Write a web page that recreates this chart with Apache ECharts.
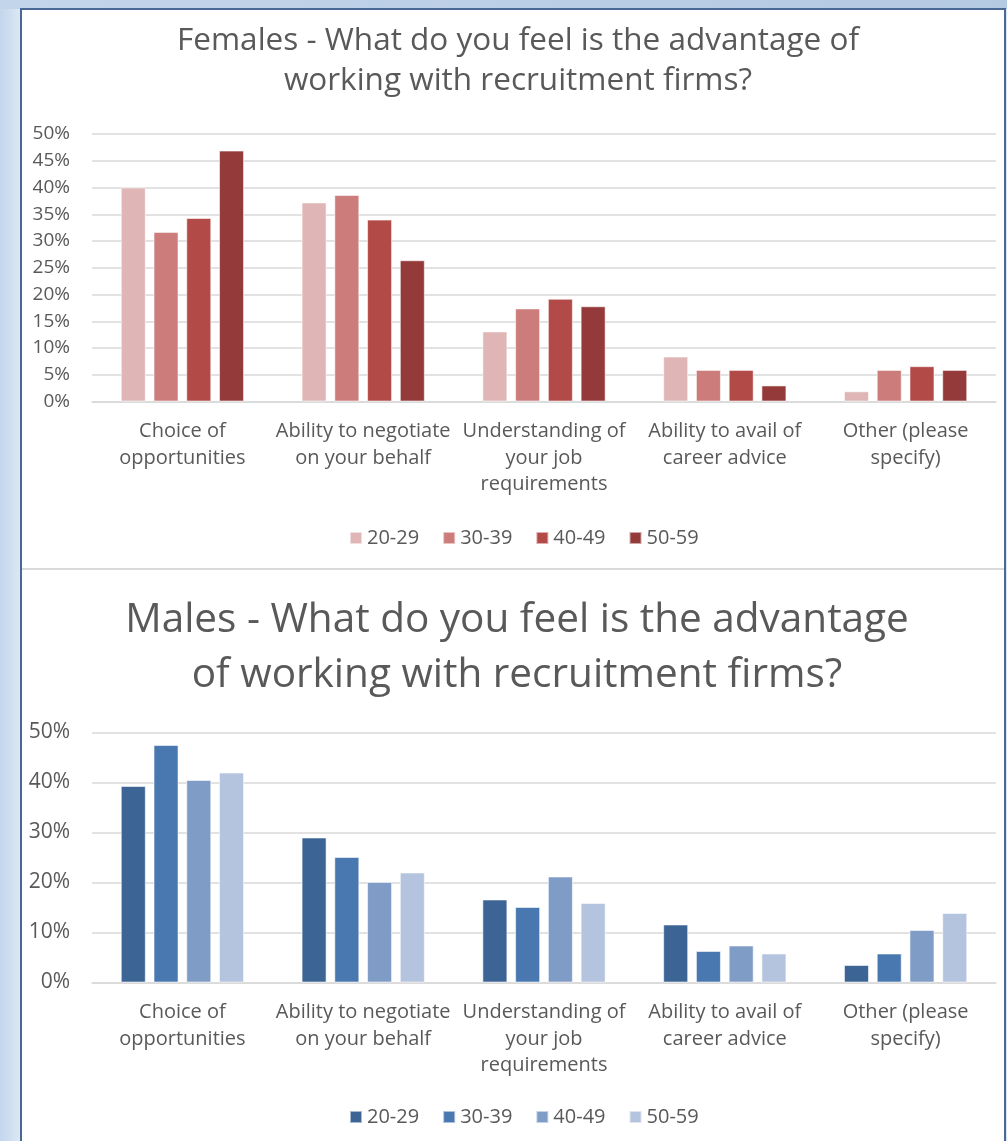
<!DOCTYPE html>
<html>
<head>
<meta charset="utf-8">
<title>Advantage of working with recruitment firms</title>
<script src="https://cdn.jsdelivr.net/npm/echarts@6/dist/echarts.min.js"></script>
<style>
    html, body {
        margin: 0;
        padding: 0;
        width: 1007px;
        height: 1141px;
        overflow: hidden;
        background: linear-gradient(to right, #c3d6ec 0px, #dce7f3 20px);
    }
    #topband {
        position: absolute;
        left: 0;
        top: 0;
        width: 1007px;
        height: 9px;
        background: linear-gradient(to right, #c2d5ea, #b4c9e2);
    }
    #panel {
        position: absolute;
        left: 20px;
        top: 8px;
        width: 982px;
        height: 1140px;
        background: #ffffff;
        border-left: 2px solid #4a6896;
        border-top: 2px solid #4a6896;
        border-right: 2px solid #4a6896;
    }
    #chart {
        position: absolute;
        left: 0;
        top: 0;
        width: 1007px;
        height: 1141px;
    }
</style>
</head>
<body>
<div id="topband"></div>
<div id="panel"></div>
<div id="chart"></div>
<script>
// categories (same for both charts)
var categories = [
    'Choice of\nopportunities',
    'Ability to negotiate\non your behalf',
    'Understanding of\nyour job\nrequirements',
    'Ability to avail of\ncareer advice',
    'Other (please\nspecify)'
];
var ageGroups = ['20-29', '30-39', '40-49', '50-59'];

// Females, percent per category
var female2029 = [40.0, 37.2, 13.1, 8.4, 1.9];
var female3039 = [31.7, 38.6, 17.4, 5.9, 5.9];
var female4049 = [34.3, 34.0, 19.2, 5.9, 6.6];
var female5059 = [46.9, 26.4, 17.8, 3.0, 5.9];

// Males, percent per category
var male2029 = [39.3, 29.0, 16.6, 11.6, 3.5];
var male3039 = [47.5, 25.1, 15.1, 6.3, 5.8];
var male4049 = [40.5, 20.1, 21.2, 7.4, 10.5];
var male5059 = [42.0, 22.0, 15.9, 5.8, 13.9];

var femaleColors = ['#dfb5b5', '#cb7c7b', '#b24b48', '#953a3a'];
var maleColors = ['#3c6495', '#4878af', '#7f9cc7', '#b4c3de'];

var FONT = 'Open Sans';
var TXT = '#595959';

function makeSeries(prefix, lists, colors, idx) {
    var out = [];
    for (var i = 0; i < lists.length; i++) {
        out.push({
            name: prefix + ageGroups[i],
            type: 'bar',
            xAxisIndex: idx,
            yAxisIndex: idx,
            barWidth: 25,
            barGap: '31%',
            itemStyle: {
                color: colors[i],
                borderColor: 'rgba(255,255,255,0.55)',
                borderWidth: 1
            },
            data: lists[i]
        });
    }
    return out;
}

function catAxis(idx) {
    return {
        type: 'category',
        gridIndex: idx,
        data: categories,
        axisTick: { show: false },
        axisLine: { lineStyle: { color: '#d9d9d9', width: 1.5 } },
        axisLabel: {
            interval: 0,
            margin: 17,
            color: TXT,
            fontFamily: FONT,
            fontSize: 20,
            lineHeight: 26.5
        }
    };
}

function valAxis(idx, step, size) {
    return {
        type: 'value',
        gridIndex: idx,
        min: 0,
        max: 50,
        interval: step,
        axisLabel: {
            formatter: '{value}%',
            margin: 22,
            color: TXT,
            fontFamily: FONT,
            fontSize: size
        },
        axisLine: { show: false },
        axisTick: { show: false },
        splitLine: { lineStyle: { color: '#d9d9d9', width: 1.5 } }
    };
}

function makeLegend(prefix, top) {
    return {
        data: ageGroups.map(function (a) { return prefix + a; }),
        formatter: function (n) { return n.slice(2); },
        left: 349,
        top: top,
        padding: 0,
        icon: 'rect',
        itemWidth: 12,
        itemHeight: 12,
        itemGap: 23,
        textStyle: { color: TXT, fontFamily: FONT, fontSize: 20 }
    };
}

var myChart = echarts.init(document.getElementById('chart'));

var option = {
    animation: false,
    title: [
        {
            text: 'Females - What do you feel is the advantage of\nworking with recruitment firms?',
            left: 518,
            top: 21,
            padding: 0,
            textAlign: 'center',
            textStyle: { color: TXT, fontFamily: FONT, fontWeight: 'normal', fontSize: 31.5, lineHeight: 40 }
        },
        {
            text: 'Males - What do you feel is the advantage\nof working with recruitment firms?',
            left: 517,
            top: 593,
            padding: 0,
            textAlign: 'center',
            textStyle: { color: TXT, fontFamily: FONT, fontWeight: 'normal', fontSize: 40.5, lineHeight: 55 }
        }
    ],
    legend: [makeLegend('F ', 528), makeLegend('M ', 1107)],
    grid: [
        { left: 92, right: 11, top: 134, height: 267.5 },
        { left: 92, right: 11, top: 732.5, height: 250 }
    ],
    xAxis: [catAxis(0), catAxis(1)],
    yAxis: [valAxis(0, 5, 19), valAxis(1, 10, 21)],
    graphic: [
        {
            type: 'rect',
            shape: { x: 22, y: 568, width: 982, height: 2 },
            style: { fill: '#d9d9d9' }
        }
    ],
    series: makeSeries('F ', [female2029, female3039, female4049, female5059], femaleColors, 0)
        .concat(makeSeries('M ', [male2029, male3039, male4049, male5059], maleColors, 1))
};

myChart.setOption(option);
</script>
</body>
</html>
